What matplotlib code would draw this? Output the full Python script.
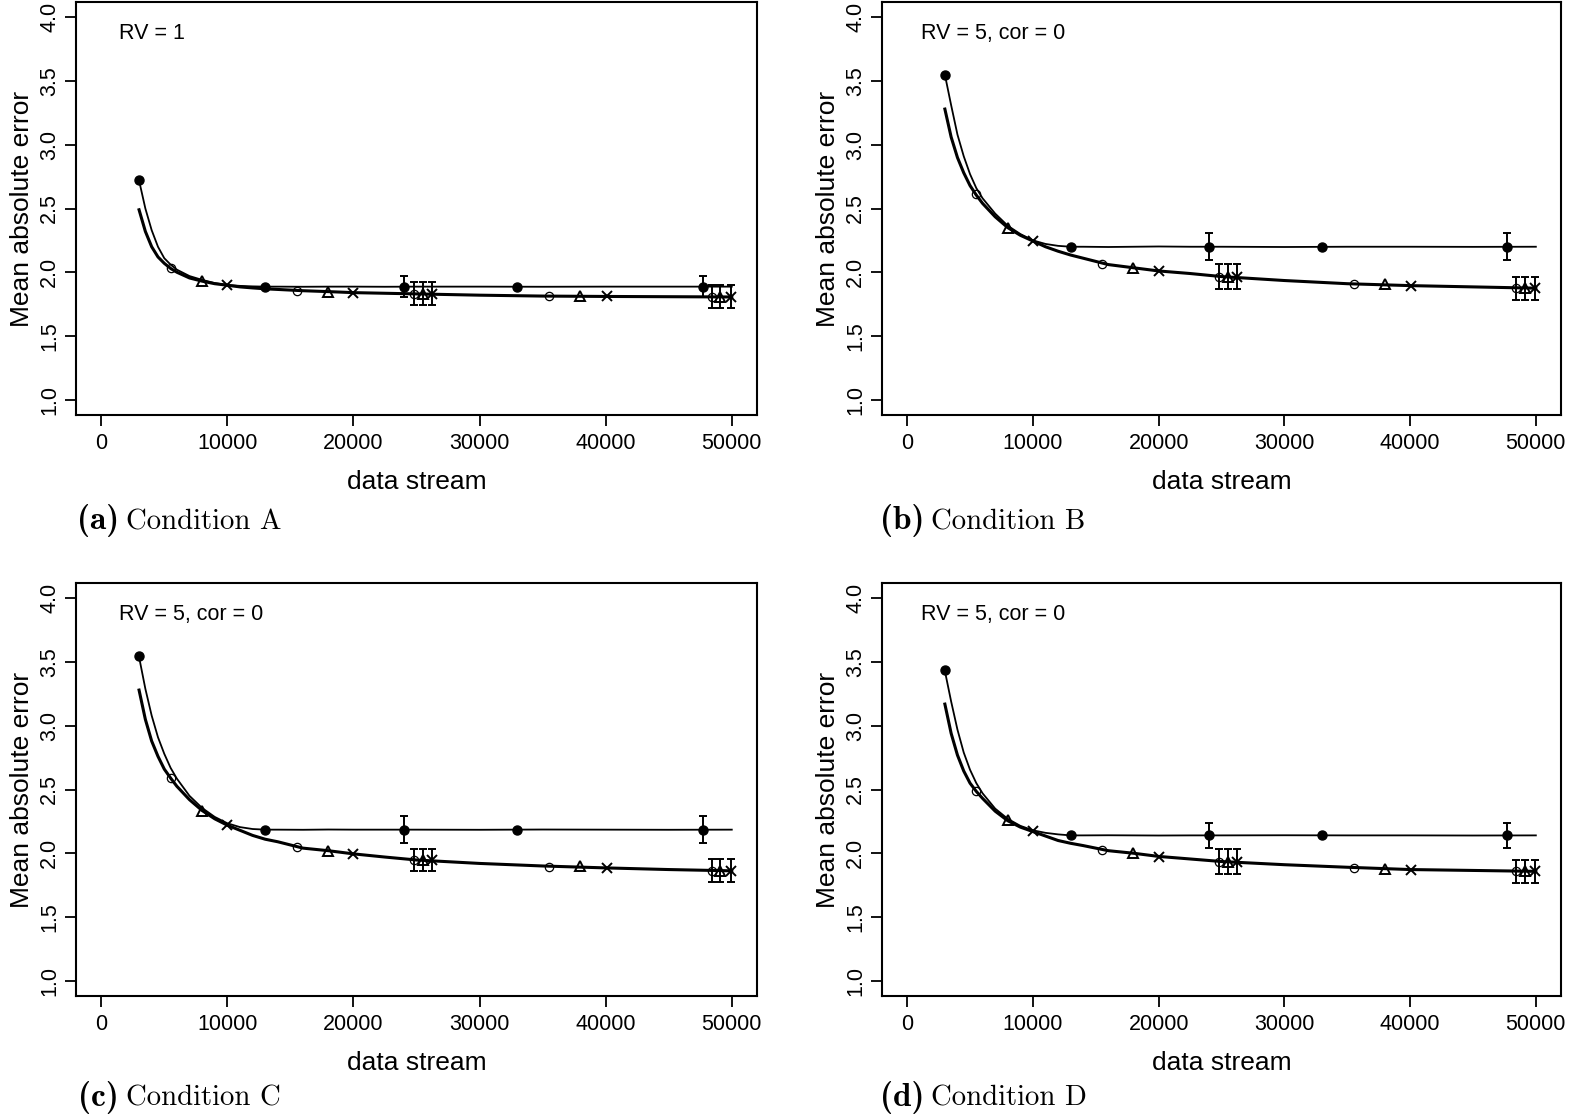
import numpy as np
import matplotlib
matplotlib.use("Agg")
import matplotlib.pyplot as plt

plt.rcParams['font.family'] = ['Liberation Sans', 'DejaVu Sans']

# x positions of the curve points (shared by all panels)
curve_x = [3000, 3500, 4000, 4500, 5000, 5500, 6000, 7000, 8000, 9000, 10000,
           11000, 12000, 13000, 14000, 16000, 18000, 20000, 22500, 25000,
           30000, 35000, 40000, 45000, 50000]

# x positions of the markers for each series
x_filled = [3000, 13000, 24000, 33000, 47700]
x_open = [5500, 15500, 24800, 35500, 48400]
x_tri = [8000, 18000, 25500, 38000, 49100]
x_cross = [10000, 20000, 26200, 40100, 49900]

# ---- (a) Condition A
a_filled_curve = [2.72, 2.50, 2.33, 2.20, 2.11, 2.06, 2.02, 1.97, 1.94, 1.915, 1.90,
                  1.893, 1.889, 1.887, 1.887, 1.886, 1.887, 1.887, 1.886, 1.887,
                  1.887, 1.886, 1.887, 1.887, 1.887]
a_lower_curve = [2.49, 2.32, 2.20, 2.12, 2.07, 2.03, 2.00, 1.955, 1.93, 1.91, 1.898,
                 1.885, 1.877, 1.87, 1.865, 1.855, 1.848, 1.84, 1.835, 1.83,
                 1.82, 1.813, 1.81, 1.808, 1.806]
a_filled_y = [2.72, 1.887, 1.887, 1.887, 1.887]
a_open_y = [2.03, 1.852, 1.83, 1.812, 1.808]
a_tri_y = [1.934, 1.846, 1.83, 1.815, 1.808]
a_cross_y = [1.90, 1.838, 1.83, 1.81, 1.808]
a_filled_err = [0, 0, 0.085, 0, 0.085]
a_lower_err = [0, 0, 0.09, 0, 0.09]

# ---- (b) Condition B
b_filled_curve = [3.55, 3.31, 3.08, 2.91, 2.77, 2.66, 2.58, 2.46, 2.365, 2.30, 2.25,
                  2.222, 2.207, 2.20, 2.20, 2.198, 2.20, 2.202, 2.20, 2.20,
                  2.198, 2.20, 2.20, 2.199, 2.20]
b_lower_curve = [3.28, 3.06, 2.90, 2.78, 2.68, 2.605, 2.54, 2.435, 2.35, 2.29, 2.245,
                 2.20, 2.165, 2.135, 2.11, 2.06, 2.035, 2.01, 1.99, 1.966,
                 1.935, 1.91, 1.895, 1.885, 1.875]
b_filled_y = [3.55, 2.20, 2.20, 2.20, 2.20]
b_open_y = [2.61, 2.065, 1.966, 1.906, 1.875]
b_tri_y = [2.35, 2.035, 1.966, 1.91, 1.875]
b_cross_y = [2.245, 2.01, 1.966, 1.895, 1.875]
b_filled_err = [0, 0, 0.105, 0, 0.105]
b_lower_err = [0, 0, 0.10, 0, 0.09]

# ---- (c) Condition C
c_filled_curve = [3.54, 3.29, 3.08, 2.91, 2.78, 2.67, 2.585, 2.45, 2.355, 2.285, 2.235,
                  2.205, 2.19, 2.185, 2.185, 2.184, 2.186, 2.185, 2.185, 2.185,
                  2.184, 2.186, 2.185, 2.184, 2.185]
c_lower_curve = [3.28, 3.05, 2.88, 2.76, 2.66, 2.59, 2.525, 2.42, 2.335, 2.27, 2.22,
                 2.18, 2.14, 2.11, 2.09, 2.04, 2.02, 1.995, 1.97, 1.947,
                 1.92, 1.90, 1.885, 1.872, 1.862]
c_filled_y = [3.55, 2.185, 2.185, 2.185, 2.185]
c_open_y = [2.59, 2.047, 1.947, 1.895, 1.862]
c_tri_y = [2.335, 2.02, 1.947, 1.90, 1.862]
c_cross_y = [2.22, 1.995, 1.947, 1.883, 1.862]
c_filled_err = [0, 0, 0.105, 0, 0.105]
c_lower_err = [0, 0, 0.09, 0, 0.09]

# ---- (d) Condition D
d_filled_curve = [3.43, 3.19, 2.97, 2.79, 2.655, 2.55, 2.47, 2.35, 2.27, 2.215, 2.18,
                  2.16, 2.148, 2.14, 2.14, 2.141, 2.14, 2.139, 2.14, 2.14,
                  2.141, 2.14, 2.14, 2.139, 2.14]
d_lower_curve = [3.17, 2.94, 2.77, 2.645, 2.55, 2.485, 2.43, 2.33, 2.255, 2.205, 2.17,
                 2.135, 2.10, 2.078, 2.06, 2.02, 2.00, 1.975, 1.955, 1.935,
                 1.91, 1.89, 1.872, 1.865, 1.858]
d_filled_y = [3.44, 2.14, 2.14, 2.14, 2.14]
d_open_y = [2.49, 2.026, 1.935, 1.887, 1.86]
d_tri_y = [2.26, 2.00, 1.935, 1.88, 1.86]
d_cross_y = [2.172, 1.973, 1.935, 1.87, 1.86]
d_filled_err = [0, 0, 0.10, 0, 0.10]
d_lower_err = [0, 0, 0.10, 0, 0.09]

panel_titles = ["RV = 1", "RV = 5, cor = 0", "RV = 5, cor = 0", "RV = 5, cor = 0"]
cap_letters = ["(a)", "(b)", "(c)", "(d)"]
cap_names = ["Condition A", "Condition B", "Condition C", "Condition D"]

panels = [
    (a_filled_curve, a_lower_curve, a_filled_y, a_open_y, a_tri_y, a_cross_y, a_filled_err, a_lower_err),
    (b_filled_curve, b_lower_curve, b_filled_y, b_open_y, b_tri_y, b_cross_y, b_filled_err, b_lower_err),
    (c_filled_curve, c_lower_curve, c_filled_y, c_open_y, c_tri_y, c_cross_y, c_filled_err, c_lower_err),
    (d_filled_curve, d_lower_curve, d_filled_y, d_open_y, d_tri_y, d_cross_y, d_filled_err, d_lower_err),
]

W, H = 1573, 1116
fig = plt.figure(figsize=(W / 100, H / 100), dpi=100)
renderer = fig.canvas.get_renderer()

# axes boxes in pixels: left, top, right, bottom
boxes = [(76, 2, 757, 415), (882, 2, 1561, 415), (76, 583, 757, 996), (882, 583, 1561, 996)]
cap_pos = [(77, 529), (880, 529), (78, 1106), (880, 1106)]
title_x = [0.063, 0.058, 0.063, 0.058]


def draw_err(ax, xs, ys, errs):
    for x, y, e in zip(xs, ys, errs):
        if e > 0:
            ax.errorbar([x], [y], yerr=[e], fmt='none', ecolor='black',
                        elinewidth=1.4, capsize=2.8, capthick=1.4, zorder=3)


for i, (fc, lc, fy, oy, ty, cy, ferr, lerr) in enumerate(panels):
    l, t, r, b = boxes[i]
    ax = fig.add_axes([l / W, 1 - b / H, (r - l) / W, (b - t) / H])

    ax.plot(curve_x, fc, color='black', lw=1.3, zorder=2)
    ax.plot(curve_x, lc, color='black', lw=2.2, zorder=2)

    draw_err(ax, x_filled, fy, ferr)
    draw_err(ax, x_open, oy, lerr)
    draw_err(ax, x_tri, ty, lerr)
    draw_err(ax, x_cross, cy, lerr)

    ax.plot(x_filled, fy, 'o', color='black', ms=6.5, zorder=4)
    ax.plot(x_open, oy, 'o', mfc='none', mec='black', mew=0.9, ms=6, zorder=4)
    ax.plot(x_tri, ty, '^', mfc='none', mec='black', mew=1.4, ms=7, zorder=4)
    ax.plot(x_cross, cy, 'x', color='black', mew=1.4, ms=6.5, zorder=4)

    ax.set_xlim(-2000, 52000)
    ax.set_ylim(0.88, 4.12)
    ax.set_xticks([0, 10000, 20000, 30000, 40000, 50000])
    ax.set_yticks([1.0, 1.5, 2.0, 2.5, 3.0, 3.5, 4.0])
    ax.set_yticklabels(["1.0", "1.5", "2.0", "2.5", "3.0", "3.5", "4.0"],
                       rotation=90, va='center')
    ax.tick_params(axis='both', direction='out', length=8, width=1.3, labelsize=15.5)
    ax.tick_params(axis='x', pad=4.7)
    ax.tick_params(axis='y', pad=3.5)
    for s in ax.spines.values():
        s.set_linewidth(1.5)

    ax.set_xlabel("data stream", fontsize=19, labelpad=12)
    ax.set_ylabel("Mean absolute error", fontsize=19, labelpad=3.5)

    ax.text(title_x[i], 0.923, panel_titles[i], transform=ax.transAxes,
            fontsize=15.5, va='center', ha='left')

    # caption: bold letter in Computer Modern bold, name in Computer Modern roman
    cx, cyy = cap_pos[i]
    t1 = fig.text(cx / W, 1 - cyy / H, cap_letters[i], fontsize=24, family='cmb10',
                  ha='left', va='baseline')
    ext = t1.get_window_extent(renderer=renderer)
    fig.text((ext.x1 + 7) / W, 1 - cyy / H, cap_names[i], fontsize=20.7, family='cmr10',
             ha='left', va='baseline')

fig.savefig("out.png", dpi=100, facecolor='white')
